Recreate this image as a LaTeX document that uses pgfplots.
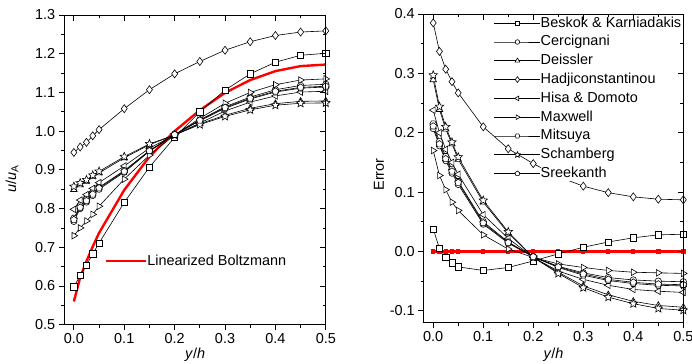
\documentclass[border=0pt]{standalone}
\usepackage{fontspec}
\setmainfont{Liberation Sans}
\usepackage{pgfplots}
\usepackage{pgfplotstable}
\pgfplotsset{compat=1.18}

\pgfdeclareplotmark{hexagon*}{%
  \pgfpathmoveto{\pgfpointpolar{0}{\pgfplotmarksize}}%
  \pgfpathlineto{\pgfpointpolar{60}{\pgfplotmarksize}}%
  \pgfpathlineto{\pgfpointpolar{120}{\pgfplotmarksize}}%
  \pgfpathlineto{\pgfpointpolar{180}{\pgfplotmarksize}}%
  \pgfpathlineto{\pgfpointpolar{240}{\pgfplotmarksize}}%
  \pgfpathlineto{\pgfpointpolar{300}{\pgfplotmarksize}}%
  \pgfpathclose\pgfusepathqfillstroke}
\pgfdeclareplotmark{ostar}{%
  \pgfpathmoveto{\pgfpointpolar{90}{\pgfplotmarksize}}%
  \pgfpathlineto{\pgfpointpolar{126}{0.45\pgfplotmarksize}}%
  \pgfpathlineto{\pgfpointpolar{162}{\pgfplotmarksize}}%
  \pgfpathlineto{\pgfpointpolar{198}{0.45\pgfplotmarksize}}%
  \pgfpathlineto{\pgfpointpolar{234}{\pgfplotmarksize}}%
  \pgfpathlineto{\pgfpointpolar{270}{0.45\pgfplotmarksize}}%
  \pgfpathlineto{\pgfpointpolar{306}{\pgfplotmarksize}}%
  \pgfpathlineto{\pgfpointpolar{342}{0.45\pgfplotmarksize}}%
  \pgfpathlineto{\pgfpointpolar{18}{\pgfplotmarksize}}%
  \pgfpathlineto{\pgfpointpolar{54}{0.45\pgfplotmarksize}}%
  \pgfpathclose\pgfusepathqfillstroke}

\pgfplotstableread{
x LB Bes Cer Dei Had His Max Mit Sch Sre
0 0.560 0.598 0.767 0.849 0.945 0.798 0.730 0.775 0.857 0.771
0.0125 0.622 0.627 0.800 0.861 0.959 0.822 0.750 0.807 0.866 0.803
0.025 0.664 0.654 0.817 0.870 0.971 0.836 0.768 0.824 0.874 0.820
0.0375 0.702 0.683 0.834 0.883 0.988 0.852 0.785 0.840 0.886 0.837
0.05 0.737 0.711 0.850 0.892 1.004 0.867 0.806 0.855 0.896 0.853
0.1 0.848 0.816 0.894 0.931 1.058 0.910 0.876 0.898 0.934 0.896
0.15 0.934 0.907 0.948 0.965 1.107 0.956 0.938 0.950 0.967 0.949
0.2 1.000 0.984 0.991 0.990 1.148 0.990 0.990 0.991 0.990 0.991
0.25 1.054 1.050 1.029 1.019 1.180 1.021 1.033 1.027 1.017 1.028
0.3 1.099 1.106 1.063 1.041 1.209 1.052 1.072 1.059 1.038 1.061
0.35 1.132 1.148 1.088 1.059 1.231 1.075 1.100 1.083 1.055 1.085
0.4 1.155 1.178 1.107 1.071 1.247 1.091 1.120 1.101 1.067 1.103
0.45 1.168 1.196 1.118 1.077 1.256 1.101 1.132 1.111 1.072 1.113
0.5 1.172 1.201 1.121 1.078 1.259 1.103 1.135 1.114 1.073 1.116
}\velo

\pgfplotstableread{
x LB Bes Cer Dei Had His Max Mit Sch Sre
0 0 0.038 0.207 0.289 0.385 0.238 0.170 0.215 0.297 0.211
0.0125 0 0.005 0.178 0.239 0.337 0.200 0.128 0.185 0.244 0.181
0.025 0 -0.010 0.153 0.206 0.307 0.172 0.104 0.160 0.210 0.156
0.0375 0 -0.019 0.132 0.181 0.286 0.150 0.083 0.138 0.184 0.135
0.05 0 -0.026 0.113 0.155 0.267 0.130 0.069 0.118 0.159 0.116
0.1 0 -0.032 0.046 0.083 0.210 0.062 0.028 0.050 0.086 0.048
0.15 0 -0.027 0.014 0.031 0.173 0.022 0.004 0.016 0.033 0.015
0.2 0 -0.016 -0.009 -0.010 0.148 -0.010 -0.010 -0.009 -0.010 -0.009
0.25 0 -0.004 -0.025 -0.035 0.126 -0.033 -0.021 -0.027 -0.037 -0.026
0.3 0 0.007 -0.036 -0.058 0.110 -0.047 -0.027 -0.040 -0.061 -0.038
0.35 0 0.016 -0.044 -0.073 0.099 -0.057 -0.032 -0.049 -0.077 -0.047
0.4 0 0.023 -0.048 -0.084 0.092 -0.064 -0.035 -0.054 -0.088 -0.052
0.45 0 0.028 -0.050 -0.091 0.088 -0.067 -0.036 -0.057 -0.096 -0.055
0.5 0 0.029 -0.051 -0.094 0.087 -0.069 -0.037 -0.058 -0.099 -0.056
}\err

\newcommand{\fnt}{\fontsize{14.5}{17}\selectfont}

\pgfplotsset{
  base/.style={
    scale only axis,
    axis line style={line width=0.9bp},
    xmin=-0.019, xmax=0.5,
    xtick={0,0.1,...,0.5},
    minor x tick num=1, minor y tick num=1,
    major tick length=5.5bp, minor tick length=3.2bp,
    every tick/.style={black, line width=0.8bp},
    tick label style={font=\fnt},
    /pgf/number format/.cd, fixed, fixed zerofill, precision=1, assume math mode=true,
    /pgfplots/.cd,
  },
  mainax/.style={base, xtick pos=lower, ytick pos=left, tick align=outside},
  overax/.style={base, xtick pos=upper, ytick pos=right, tick align=inside,
    xticklabels={}, yticklabels={}},
  ser/.style={black, line width=0.6bp, mark options={solid, fill=white, line width=0.6bp}},
  serL/.style={black, line width=0.6bp, mark options={solid, fill=white, line width=0.6bp, rotate=90}},
  serR/.style={black, line width=0.6bp, mark options={solid, fill=white, line width=0.6bp, rotate=-90}},
}

\begin{document}
\begin{tikzpicture}[x=1bp,y=1bp]
% ---------------- left panel ----------------
\begin{axis}[mainax, at={(64.3bp,39.3bp)}, anchor=south west,
  width=261.5bp, height=309.7bp,
  ymin=0.5, ymax=1.3, ytick={0.5,0.6,...,1.3},
  xlabel={\textit{y}/\textit{h}}, ylabel={\textit{u}/\textit{u}\textsubscript{A}},
  every axis x label/.style={at={(axis description cs:0.5,-0.097)}, anchor=center, font=\fnt},
  every axis y label/.style={at={(axis description cs:-0.2,0.47)}, anchor=center, rotate=90, font=\fnt},
  legend style={at={(0.143,0.206)}, anchor=west, draw=none, fill=none, font=\fnt,
    nodes={inner sep=0pt}},
  legend image code/.code={\draw[#1] (0bp,0bp) -- (40bp,0bp);},
  /tikz/every even column/.append style={column sep=4bp},
]
\addplot[red, line width=2.4bp, no marks] table[x=x, y=LB] {\velo};
\addlegendentry{Linearized Boltzmann}
\addplot[ser, mark=square*, mark size=3.1bp, forget plot] table[x=x, y=Bes] {\velo};
\addplot[ser, mark=*, mark size=3.2bp, forget plot] table[x=x, y=Cer] {\velo};
\addplot[ser, mark=triangle*, mark size=3.8bp, forget plot] table[x=x, y=Dei] {\velo};
\addplot[ser, mark=diamond*, mark size=4bp, forget plot] table[x=x, y=Had] {\velo};
\addplot[serL, mark=triangle*, mark size=3.8bp, forget plot] table[x=x, y=His] {\velo};
\addplot[serR, mark=triangle*, mark size=3.8bp, forget plot] table[x=x, y=Max] {\velo};
\addplot[ser, mark=hexagon*, mark size=3.4bp, forget plot] table[x=x, y=Mit] {\velo};
\addplot[ser, mark=ostar, mark size=4.4bp, forget plot] table[x=x, y=Sch] {\velo};
\addplot[ser, mark=pentagon*, mark size=3.5bp, forget plot] table[x=x, y=Sre] {\velo};
\end{axis}
\begin{axis}[overax, at={(64.3bp,39.3bp)}, anchor=south west,
  width=261.5bp, height=309.7bp,
  ymin=0.5, ymax=1.3, ytick={0.5,0.6,...,1.3}]
\end{axis}
% ---------------- right panel ----------------
\begin{axis}[mainax, at={(423.7bp,41.3bp)}, anchor=south west,
  width=259.6bp, height=308.7bp,
  ymin=-0.12, ymax=0.4, ytick={-0.1,0,0.1,0.2,0.3,0.4},
  xlabel={\textit{y}/\textit{h}}, ylabel={Error},
  every axis x label/.style={at={(axis description cs:0.5,-0.105)}, anchor=center, font=\fnt},
  every axis y label/.style={at={(axis description cs:-0.172,0.48)}, anchor=center, rotate=90, font=\fnt},
  legend style={at={(0.259,1.0)}, anchor=north west, draw=none, fill=none, font=\fnt,
    nodes={inner sep=0pt, text height=11bp, text depth=3bp, fill=white},
    row sep=4.8bp},
  legend cell align=left,
  legend image code/.code={\draw[mark repeat=2, mark phase=2, #1, every mark/.append style={scale=0.72}] plot coordinates {(0bp,0bp) (23bp,0bp) (46bp,0bp)};},
  /tikz/every even column/.append style={column sep=3bp},
]
\addplot[red, line width=2.4bp, mark=square*, mark size=1bp, forget plot] table[x=x, y=LB] {\err};
\addplot[ser, mark=square*, mark size=3.1bp] table[x=x, y=Bes] {\err};
\addlegendentry{Beskok \& Karniadakis}
\addplot[ser, mark=*, mark size=3.2bp] table[x=x, y=Cer] {\err};
\addlegendentry{Cercignani}
\addplot[ser, mark=triangle*, mark size=3.8bp] table[x=x, y=Dei] {\err};
\addlegendentry{Deissler}
\addplot[ser, mark=diamond*, mark size=4bp] table[x=x, y=Had] {\err};
\addlegendentry{Hadjiconstantinou}
\addplot[serL, mark=triangle*, mark size=3.8bp] table[x=x, y=His] {\err};
\addlegendentry{Hisa \& Domoto}
\addplot[serR, mark=triangle*, mark size=3.8bp] table[x=x, y=Max] {\err};
\addlegendentry{Maxwell}
\addplot[ser, mark=hexagon*, mark size=3.4bp] table[x=x, y=Mit] {\err};
\addlegendentry{Mitsuya}
\addplot[ser, mark=ostar, mark size=4.4bp] table[x=x, y=Sch] {\err};
\addlegendentry{Schamberg}
\addplot[ser, mark=pentagon*, mark size=3.5bp] table[x=x, y=Sre] {\err};
\addlegendentry{Sreekanth}
\end{axis}
\begin{axis}[overax, at={(423.7bp,41.3bp)}, anchor=south west,
  width=259.6bp, height=308.7bp,
  ymin=-0.12, ymax=0.4, ytick={-0.1,0,0.1,0.2,0.3,0.4}]
\end{axis}
\pgfresetboundingbox
\path[use as bounding box] (0bp,0bp) rectangle (692bp,364bp);
\end{tikzpicture}
\end{document}
